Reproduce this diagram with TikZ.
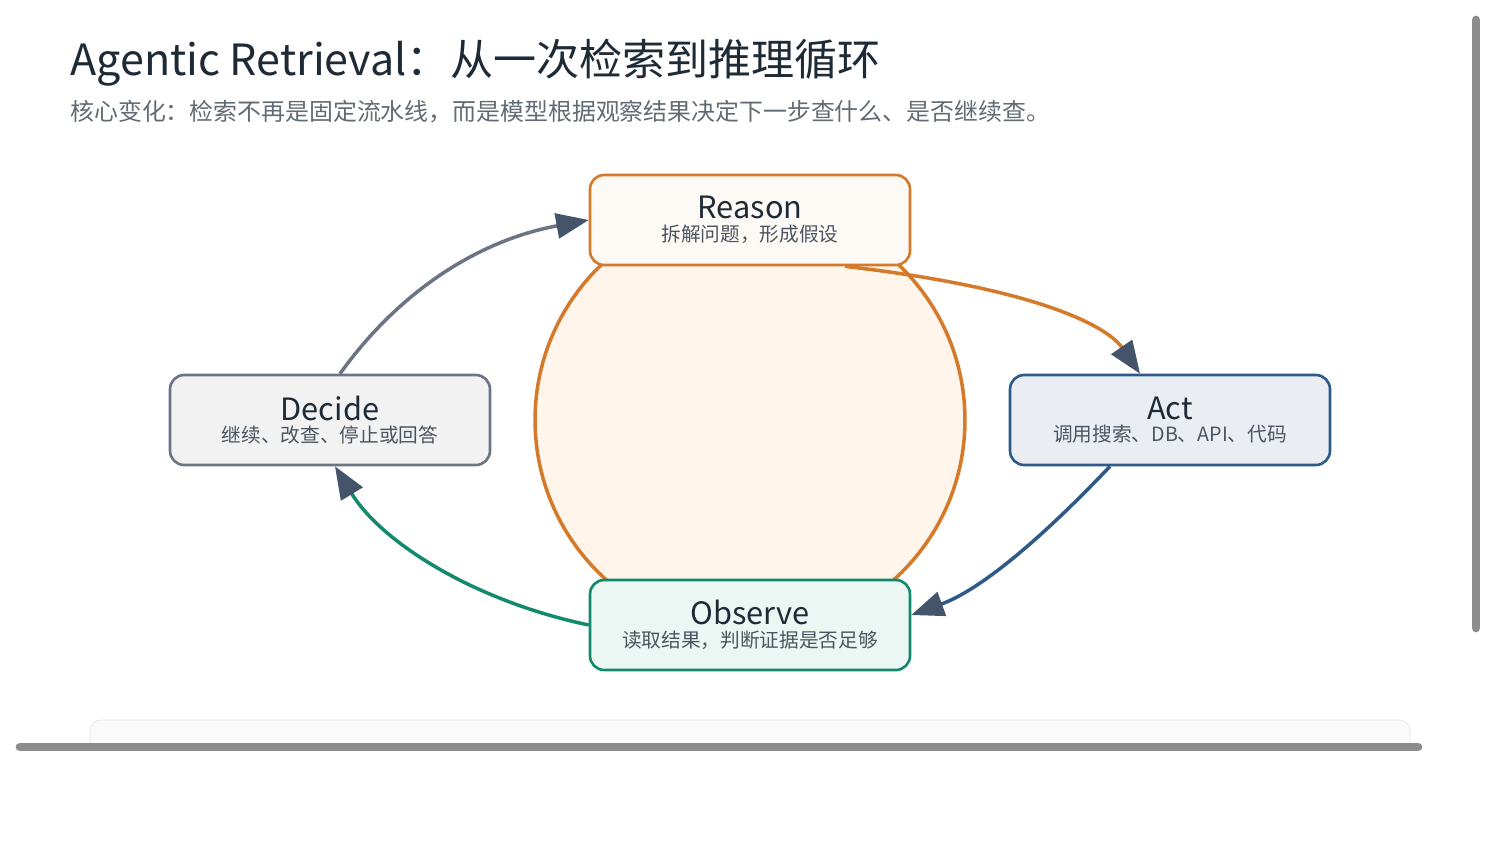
\documentclass[tikz,border=0pt]{standalone}
\usepackage{fontspec}
\setmainfont{Noto Sans CJK SC}
\usetikzlibrary{positioning}
\usetikzlibrary{arrows.meta}
\definecolor{ornge}{HTML}{D47A2A}
\definecolor{ochre}{HTML}{FFF5EB}
\definecolor{bluec}{HTML}{2E5A8A}
\definecolor{greenc}{HTML}{138A6E}
\definecolor{greyc}{HTML}{6B7385}
\definecolor{tipc}{HTML}{44546A}
\definecolor{inkc}{HTML}{1F2A37}
\tikzset{stage/.style={rectangle,rounded corners=8pt,line width=1.5pt,
minimum width=6.4cm,minimum height=1.8cm,inner sep=0pt,align=center,text=inkc}}
\tikzset{loop/.style={line width=2pt,-{Triangle[length=0.65cm,width=0.5cm,color=tipc]}}}
\newcommand{\stagetext}[2]{{\fontsize{17.5}{19}\selectfont #1}\\[1pt]{\fontsize{11.2}{12}\selectfont\color{inkc!80} #2}}
\begin{document}
\begin{tikzpicture}[x=0.02cm,y=-0.02cm]
        \useasboundingbox (0,0) rectangle (1500,850);
        \node[anchor=base west,inner sep=0pt,text=inkc,font=\fontsize{24.5}{28}\selectfont] (title) at (70,75) {Agentic Retrieval：从一次检索到推理循环};
        \node[anchor=base west,inner sep=0pt,text=inkc!70,font=\fontsize{13.6}{15}\selectfont] (subtitle) at (70,120) {核心变化：检索不再是固定流水线，而是模型根据观察结果决定下一步查什么、是否继续查。};

        \draw[ornge,fill=ochre,line width=2pt] (750,420) circle (4.3cm);

        \node[stage,draw=ornge,fill=ornge!4] (reason) at (750,220) {\stagetext{Reason}{拆解问题，形成假设}};
        \node[stage,draw=bluec,fill=bluec!10] (act) at (1170,420) {\stagetext{Act}{调用搜索、DB、API、代码}};
        \node[stage,draw=greenc,fill=greenc!8] (observe) at (750,625) {\stagetext{Observe}{读取结果，判断证据是否足够}};
        \node[stage,draw=greyc,fill=black!5] (decide) at (330,420) {\stagetext{Decide}{继续、改查、停止或回答}};

        \draw[loop,ornge] ([xshift=1.9cm]reason.south) .. controls (1050,290) and (1110,330) .. ([xshift=-0.6cm]act.north);
        \draw[loop,bluec] ([xshift=-1.2cm]act.south) .. controls (1040,540) and (980,590) .. ([yshift=0.2cm]observe.east);
        \draw[loop,greenc] (observe.west) .. controls (470,600) and (380,540) .. ([xshift=0.1cm]decide.south);
        \draw[loop,greyc] ([xshift=0.2cm]decide.north) .. controls (400,290) and (480,240) .. (reason.west);

        % page edge and scrollbars
        \draw[black!10,fill=black!2,rounded corners=6pt] (90,745) -- (90,720) -- (1410,720) -- (1410,745);
        \draw[black!45,line width=5pt,line cap=round] (1476,20) -- (1476,628);
        \draw[black!45,line width=5pt,line cap=round] (20,747) -- (1418,747);
\end{tikzpicture}
\end{document}
